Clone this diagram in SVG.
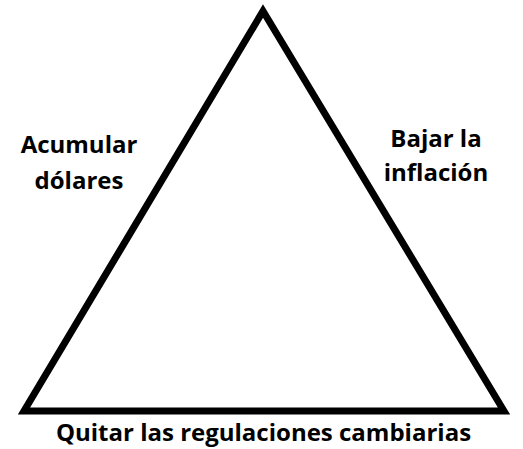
<svg xmlns="http://www.w3.org/2000/svg" width="523" height="449" viewBox="0 0 523 449">
<style>
.lbl{font-family:"Open Sans","Noto Sans","Liberation Sans",sans-serif;font-weight:bold;font-size:24px;fill:#000;text-anchor:middle}
</style>
<rect width="523" height="449" fill="#fff"/>
<g id="connectors">
<polygon id="triangle" points="263,11 24,411 504,411" fill="none" stroke="#000" stroke-width="7" stroke-linejoin="miter"/>
</g>
<g id="node-left"><text class="lbl" x="79" y="153">Acumular</text><text class="lbl" x="79" y="189">dólares</text></g>
<g id="node-right"><text class="lbl" x="436" y="147">Bajar la</text><text class="lbl" x="436" y="181">inflación</text></g>
<g id="node-bottom"><text class="lbl" x="263.5" y="441">Quitar las regulaciones cambiarias</text></g>
</svg>
